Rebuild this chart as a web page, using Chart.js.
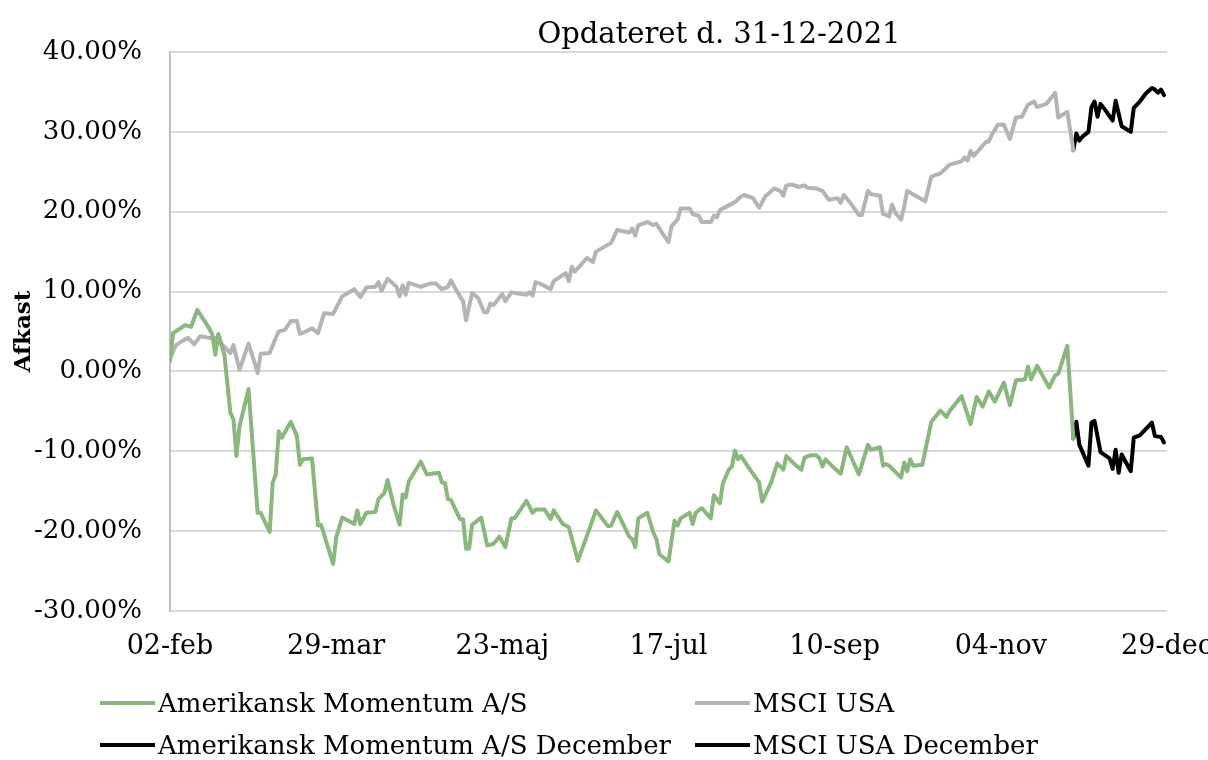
<!DOCTYPE html>
<html>
<head>
<meta charset="utf-8">
<script src="https://cdn.jsdelivr.net/npm/chart.js@4.4.1/dist/chart.umd.min.js"></script>
<style>
  body { margin: 0; background: #fff; }
  .wrap { position: relative; width: 1208px; height: 760px; font-family: 'DejaVu Serif', serif; color: #000; }
  .title { position: absolute; left: 419px; width: 600px; top: 13px; text-align: center; font-size: 29px; line-height: 40px; }
  .lg { position: absolute; display: flex; align-items: center; font-size: 26px; line-height: 32px; white-space: nowrap; }
  .lg i { display: inline-block; width: 55px; height: 4px; margin-right: 3px; }
</style>
</head>
<body>
<div class="wrap">
  <canvas id="c" width="1208" height="760"></canvas>
  <div class="title">Opdateret d. 31-12-2021</div>
  <div id="legend"></div>
</div>
<script>
// x = days since 02-feb-2021, y = afkast in %
const xTickLabels = ['02-feb', '29-mar', '23-maj', '17-jul', '10-sep', '04-nov', '29-dec'];

const momDays = [0, 1, 5, 7, 9, 13, 14, 15, 16, 18, 20, 21, 22, 23, 26, 29, 30, 33, 34, 35, 36, 37, 40, 42, 43, 44, 47, 49, 50, 54,
  55, 57, 61, 62, 63, 65, 68, 69, 71, 72, 74, 76, 77, 78, 79, 83, 85, 89, 90, 91, 92, 93, 96, 97, 98, 99, 100, 103, 105, 107, 109, 111,
  113, 114, 118, 120, 121, 124, 126, 127, 130, 132, 135, 138, 141, 145, 146, 148, 152, 153, 154, 155, 158, 160, 161, 162, 165,
  167, 168, 169, 172, 173, 174, 176, 179, 180, 182, 183, 185, 186, 187, 188, 189, 192, 195, 196, 199, 201, 203, 204, 207, 209, 210,
  212, 214, 215, 216, 217, 219, 222, 224, 228, 231, 232, 235, 236, 237, 238, 242, 243, 244, 245, 246, 249, 252, 255, 257, 258,
  262, 265, 267, 269, 271, 273, 276, 278, 280, 283, 284, 285, 287, 291, 293, 294, 297, 299];
const momValues = [1.3, 4.8, 5.8, 5.6, 7.7, 5.4, 4.6, 2.1, 4.7, 2.1, -5.2, -6.0, -10.6, -6.9, -2.2, -17.7, -17.7, -20.1, -13.9, -12.9, -7.5, -8.3, -6.3, -8.1, -11.7, -11.0, -10.9, -19.3, -19.2, -24.1,
  -20.8, -18.3, -19.1, -17.4, -19.1, -17.7, -17.6, -16.0, -15.2, -13.6, -16.7, -19.2, -15.4, -15.8, -13.8, -11.3, -12.9, -12.7, -13.9, -14.0, -16.0, -16.1, -18.5, -18.5, -22.2, -22.2, -19.2, -18.3, -21.8, -21.6, -20.7, -22.0,
  -18.4, -18.4, -16.2, -17.7, -17.3, -17.3, -18.5, -17.4, -19.1, -19.5, -23.7, -20.6, -17.4, -19.4, -19.3, -17.6, -20.7, -21.0, -22.0, -18.4, -17.7, -20.2, -21.0, -22.9, -23.8,
  -18.7, -19.3, -18.4, -17.7, -19.1, -17.7, -17.1, -18.4, -15.5, -16.5, -14.0, -12.3, -11.9, -9.9, -11.0, -10.6, -12.3, -13.9, -16.3, -13.9, -11.5, -12.3, -10.6, -11.7, -12.3, -10.8,
  -10.5, -10.5, -10.9, -11.9, -11.0, -11.8, -12.8, -9.5, -12.9, -9.2, -9.8, -9.5, -11.8, -11.6, -11.8, -13.3, -11.4, -12.5, -11.0, -11.8, -11.7, -6.3, -4.9, -5.7, -5.0,
  -3.1, -6.6, -3.2, -4.4, -2.5, -3.8, -1.4, -4.2, -1.1, -1.0, 0.6, -1.0, 0.7, -2.0, -0.5, -0.3, 3.2, -8.4];

const msciDays = [0, 2, 4, 6, 8, 10, 13, 15, 18, 20, 21, 23, 26, 29, 30, 33, 35, 36, 38, 40, 42, 43, 45, 47, 49, 51, 54,
  57, 61, 63, 65, 68, 69, 70, 72, 75, 76, 77, 78, 79, 83, 86, 88, 90, 92, 93, 95, 97, 98, 100, 102, 104, 105, 106, 107, 110, 111,
  113, 118, 119, 120, 121, 123, 126, 127, 131, 132, 133, 134, 138, 140, 141, 146, 148, 152, 153, 154, 155, 158, 160, 161, 163, 165,
  166, 168, 169, 172, 173, 175, 176, 179, 180, 181, 182, 187, 189, 190, 193, 195, 197, 200, 202, 203, 204, 206, 208, 210, 211, 214, 216, 218,
  221, 222, 223, 225, 228, 229, 231, 232, 235, 236, 237, 238, 239, 240, 242, 243, 244, 250, 252, 255, 257, 258, 262, 263, 264, 265, 266,
  270, 271, 272, 274, 276, 278, 280, 282, 284, 286, 287, 290, 293, 294, 297, 299];
const msciValues = [1.7, 3.3, 3.8, 4.2, 3.4, 4.4, 4.2, 4.2, 3.1, 2.3, 3.3, 0.2, 3.5, -0.2, 2.2, 2.3, 4.2, 5.0, 5.2, 6.3, 6.3, 4.7, 5.0, 5.4, 4.8, 7.3, 7.2,
  9.4, 10.3, 9.3, 10.5, 10.6, 11.2, 10.1, 11.6, 10.6, 9.4, 10.8, 9.6, 11.1, 10.6, 11.0, 11.0, 10.3, 10.6, 11.4, 10.0, 8.8, 6.4, 9.8, 9.2, 7.4, 7.4, 8.5, 8.3, 9.7, 8.8,
  9.9, 9.6, 9.9, 9.5, 11.2, 10.9, 10.3, 11.3, 12.3, 11.3, 13.1, 12.5, 14.2, 13.7, 15.0, 16.1, 17.7, 17.4, 17.9, 17.0, 18.3, 18.7, 18.3, 18.5, 17.3, 16.2,
  18.2, 19.0, 20.4, 20.4, 19.7, 19.5, 18.7, 18.7, 19.5, 19.3, 20.2, 21.2, 21.9, 22.1, 21.7, 20.5, 21.9, 22.9, 22.6, 22.0, 23.3, 23.4, 23.1, 23.3, 23.0, 22.9, 22.6, 21.5,
  21.7, 21.1, 22.1, 21.2, 19.6, 19.6, 22.6, 22.2, 22.0, 19.7, 19.6, 19.4, 20.9, 19.9, 19.0, 20.6, 22.6, 21.3, 24.4, 24.8, 25.5, 25.9, 26.3, 26.8, 26.4, 27.6, 27.0,
  28.7, 28.8, 29.6, 30.9, 30.9, 29.1, 31.8, 31.9, 33.4, 33.8, 33.1, 33.5, 34.9, 31.8, 32.5, 27.7];

const momDecDays = [299, 300, 301, 304, 305, 306, 308, 311, 312, 313, 314, 315, 318, 319, 321, 325, 326, 328, 329];
const momDecValues = [-8.4, -6.3, -9.2, -11.8, -6.4, -6.2, -10.1, -10.9, -12.2, -9.8, -12.7, -10.4, -12.5, -8.3, -8.0, -6.4, -8.1, -8.2, -8.9];

const msciDecDays = [299, 300, 301, 302, 304, 305, 306, 307, 308, 310, 312, 313, 315, 318, 319, 321, 323, 325, 326, 327, 328, 329];
const msciDecValues = [27.7, 29.8, 28.9, 29.4, 30.0, 33.1, 33.8, 31.9, 33.5, 32.5, 31.4, 33.9, 30.7, 30.0, 33.0, 33.8, 34.8, 35.5, 35.3, 34.9, 35.3, 34.6];

const toPoints = (days, values) => days.map((d, i) => ({ x: d, y: values[i] }));

const FONT = "'DejaVu Serif', serif";
const GREEN = '#89b77c';
const GREY = '#b4b4b4';

const lineStyle = { borderWidth: 4, pointRadius: 0, tension: 0, borderJoinStyle: 'round', borderCapStyle: 'round' };

const chart = new Chart(document.getElementById('c'), {
  type: 'line',
  data: {
    datasets: [
      { label: 'Amerikansk Momentum A/S', data: toPoints(momDays, momValues), borderColor: GREEN, ...lineStyle },
      { label: 'MSCI USA', data: toPoints(msciDays, msciValues), borderColor: GREY, ...lineStyle },
      { label: 'Amerikansk Momentum A/S December', data: toPoints(momDecDays, momDecValues), borderColor: '#000', ...lineStyle },
      { label: 'MSCI USA December', data: toPoints(msciDecDays, msciDecValues), borderColor: '#000', ...lineStyle }
    ]
  },
  options: {
    responsive: false,
    animation: false,
    layout: { padding: { top: 52, right: 41, bottom: 89, left: 0 } },
    plugins: {
      legend: { display: false },
      tooltip: { enabled: false }
    },
    scales: {
      x: {
        type: 'linear',
        min: 0,
        max: 330,
        afterBuildTicks: (scale) => { scale.ticks = xTickLabels.map((_, i) => ({ value: i * 55 })); },
        afterFit: (scale) => { scale.height = 60; scale.paddingLeft = 0; scale.paddingRight = 0; },
        grid: { display: false, drawTicks: false },
        border: { display: false },
        ticks: {
          padding: 20,
          color: '#000',
          font: { family: FONT, size: 27 },
          maxRotation: 0,
          autoSkip: false,
          callback: (v) => xTickLabels[Math.round(v / 55)]
        }
      },
      y: {
        min: -30,
        max: 40,
        afterFit: (scale) => { scale.width = 170; scale.paddingTop = 0; scale.paddingBottom = 0; },
        grid: { color: '#d9d9d9', lineWidth: 2, drawTicks: false },
        border: { display: true, color: '#bfbfbf', width: 2 },
        title: { display: true, text: 'Afkast', color: '#000', font: { family: FONT, size: 23, weight: 'bold' }, padding: { top: 10, bottom: 0 } },
        ticks: {
          stepSize: 10,
          padding: 28,
          color: '#000',
          font: { family: FONT, size: 26 },
          callback: (v) => v.toFixed(2) + '%'
        }
      }
    }
  }
});

// legend laid out in two columns like the original
const legendPos = [[100, 703], [695, 703], [100, 745], [695, 745]];
const legendEl = document.getElementById('legend');
chart.data.datasets.forEach((ds, i) => {
  const item = document.createElement('div');
  item.className = 'lg';
  item.style.left = legendPos[i][0] + 'px';
  item.style.top = (legendPos[i][1] - 16) + 'px';
  item.innerHTML = '<i style="background:' + ds.borderColor + '"></i><span>' + ds.label + '</span>';
  legendEl.appendChild(item);
});
</script>
</body>
</html>
